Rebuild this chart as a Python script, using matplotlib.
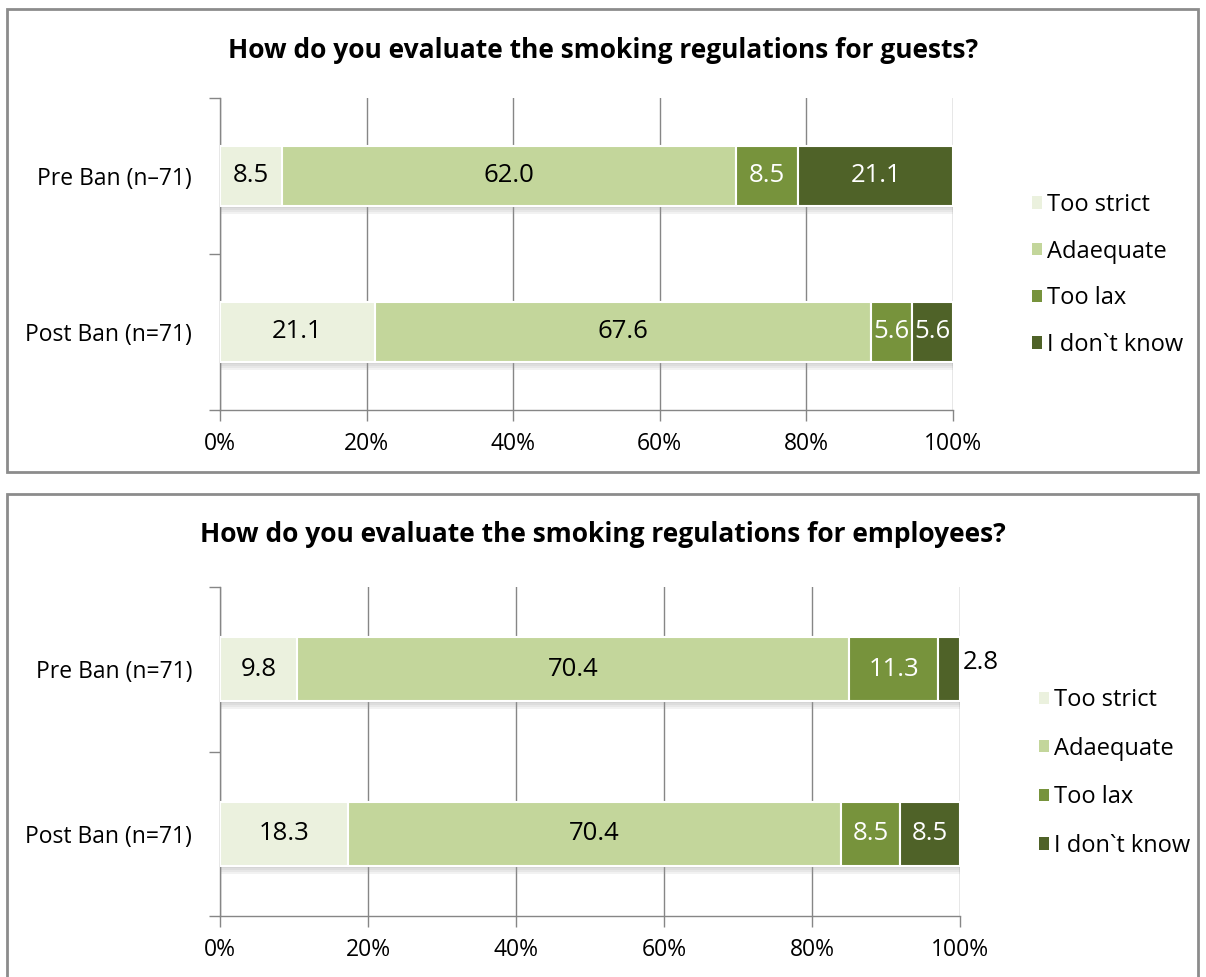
import numpy as np
import matplotlib
matplotlib.use("Agg")
import matplotlib.pyplot as plt
from matplotlib.patches import Patch, Rectangle

plt.rcParams['font.family'] = ['Open Sans', 'DejaVu Sans']

categories = ["Too strict", "Adaequate", "Too lax", "I don`t know"]
colors = ["#EBF1DE", "#C3D69B", "#77933C", "#4F6228"]
text_colors = ["black", "black", "white", "white"]

guest_rows = ["Pre Ban (n\u201371)", "Post Ban (n=71)"]
guest_pre = [8.5, 62.0, 8.5, 21.1]
guest_post = [21.1, 67.6, 5.6, 5.6]

staff_rows = ["Pre Ban (n=71)", "Post Ban (n=71)"]
staff_pre = [9.8, 70.4, 11.3, 2.8]
staff_post = [18.3, 70.4, 8.5, 8.5]

titles = ["How do you evaluate the smoking regulations for guests?",
          "How do you evaluate the smoking regulations for employees?"]

W, H = 1206, 977
fig = plt.figure(figsize=(W / 100, H / 100), dpi=100)


def px(x0, y0, x1, y1):
    # pixel box (top-left origin) -> figure fraction rect
    return [x0 / W, 1 - y1 / H, (x1 - x0) / W, (y1 - y0) / H]


def panel(rect, rows, values, title, title_y, legend_anchor, legend_gap, outside=()):
    ax = fig.add_axes(rect)
    data = np.array(values, dtype=float)
    shares = data / data.sum(axis=1, keepdims=True) * 100
    y = np.arange(len(rows))
    h = 0.39

    # soft shadow under each bar
    for k in range(4):
        ax.barh(y + 0.012 * (k + 1), 100, height=h, color="#9a9a9a",
                alpha=0.12, zorder=2, linewidth=0)

    left = np.zeros(len(rows))
    for j, cat in enumerate(categories):
        bars = ax.barh(y, shares[:, j], left=left, height=h, color=colors[j],
                       edgecolor="white", linewidth=1.5, zorder=3, label=cat)
        for i, b in enumerate(bars):
            val = data[i, j]
            if (i, j) in outside:
                ax.text(left[i] + shares[i, j] + 0.4, y[i] - 0.04, f"{val:.1f}",
                        ha="left", va="center", fontsize=18.5, color="black",
                        zorder=4, clip_on=False)
            else:
                ax.text(left[i] + shares[i, j] / 2, y[i], f"{val:.1f}",
                        ha="center", va="center", fontsize=18.5,
                        color=text_colors[j], zorder=4)
        left += shares[:, j]

    ax.set_xlim(0, 100)
    ax.set_ylim(len(rows) - 0.5, -0.5)
    ax.set_xticks(np.arange(0, 101, 20))
    ax.set_xticklabels([f"{t}%" for t in range(0, 101, 20)], fontsize=16.5)
    ax.set_yticks(y)
    ax.set_yticklabels(rows, fontsize=16.5)
    ax.set_yticks([-0.5, 0.5, 1.5], minor=True)
    ax.tick_params(axis="y", which="major", length=0, pad=20)
    ax.tick_params(axis="y", which="minor", length=8, color="#868686", width=1)
    ax.tick_params(axis="x", length=8, color="#868686", width=1, pad=8)
    ax.grid(axis="x", color="#868686", linewidth=1, zorder=0)
    ax.set_axisbelow(True)
    for s in ["top", "right"]:
        ax.spines[s].set_visible(False)
    for s in ["left", "bottom"]:
        ax.spines[s].set_color("#868686")
        ax.spines[s].set_linewidth(1)

    handles = [Patch(facecolor=c, edgecolor="none") for c in colors]
    fig.legend(handles, categories, loc="center left",
               bbox_to_anchor=legend_anchor, frameon=False, fontsize=17,
               handlelength=0.42, handleheight=0.42, handletextpad=0.2,
               labelspacing=legend_gap, borderaxespad=0)

    fig.text(0.5, title_y, title, ha="center", va="center",
             fontsize=19, fontweight="bold")
    return ax


panel(px(220, 98, 953, 410), guest_rows, [guest_pre, guest_post], titles[0],
      1 - 50 / H, (1023 / W, 1 - 275 / H), 0.96)
panel(px(220, 587, 960, 916), staff_rows, [staff_pre, staff_post], titles[1],
      1 - 535 / H, (1030 / W, 1 - 773 / H), 1.04, outside={(0, 3)})

# chart frames
for (x0, y0, x1, y1) in [(7, 9, 1198, 472), (7, 494, 1198, 1000)]:
    fig.add_artist(Rectangle((x0 / W, 1 - y1 / H), (x1 - x0) / W, (y1 - y0) / H,
                             transform=fig.transFigure, fill=False,
                             edgecolor="#8c8c8c", linewidth=2, clip_on=False))

fig.savefig("out.png", dpi=100, facecolor="white")
